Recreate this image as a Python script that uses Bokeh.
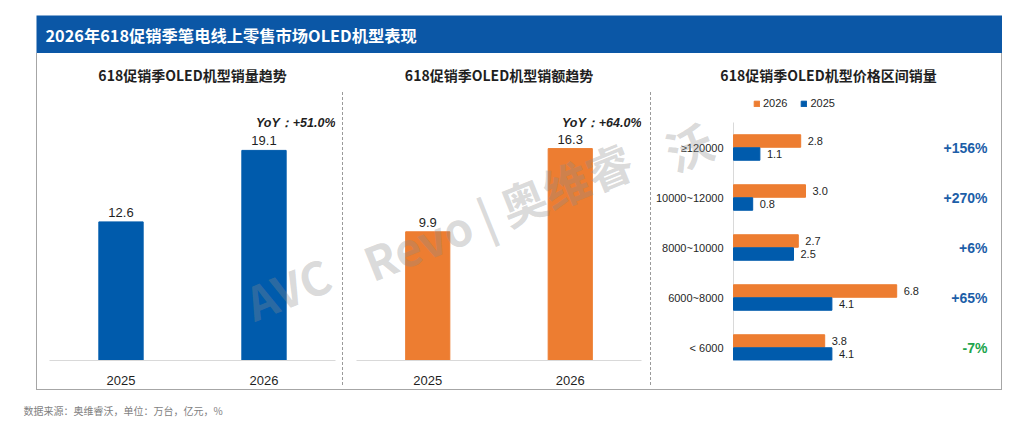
import math
from bokeh.plotting import figure
from bokeh.models import (ColumnDataSource, FactorRange, Range1d, Label, Legend,
                          LegendItem, Div, Spacer)
from bokeh.layouts import column, row
from bokeh.core.properties import value
from bokeh.embed import file_html
from bokeh.resources import INLINE

# ---------------- data ----------------
HEADER = "2026年618促销季笔电线上零售市场OLED机型表现"
FOOTER = "数据来源：奥维睿沃，单位：万台，亿元，%"
WATERMARK_PARTS = ["AVC", "Revo | 奥维睿", "沃"]     # one piece per panel

years = ["2025", "2026"]
title1 = "618促销季OLED机型销量趋势"
sales_volume = [12.6, 19.1]
yoy_volume = "YoY：+51.0%"

title2 = "618促销季OLED机型销额趋势"
sales_amount = [9.9, 16.3]
yoy_amount = "YoY：+64.0%"

title3 = "618促销季OLED机型价格区间销量"
price_bands = ["≥120000", "10000~12000", "8000~10000", "6000~8000", "< 6000"]
band_2026 = [2.8, 3.0, 2.7, 6.8, 3.8]
band_2025 = [1.1, 0.8, 2.5, 4.1, 4.1]
band_growth = ["+156%", "+270%", "+6%", "+65%", "-7%"]
series_names = ["2026", "2025"]

# ---------------- styles ----------------
HEADER_BLUE = "#0b57a6"
BLUE = "#005bac"
ORANGE = "#ed7d31"
GROWTH_BLUE = "#1c5ea8"
GROWTH_GREEN = "#20a44c"
BORDER = "#a6a6a6"
AXIS = "#d9d9d9"
TXT = "#1f1f1f"
NUM_FONT = "Liberation Sans"
CJK_FONT = "Noto Sans CJK SC"

PANEL_H = 336
BOTTOM = 29            # space below every frame (category labels)
FRAME_H = PANEL_H - BOTTOM
TITLE_DY = 21          # title centre below panel top (px)
# watermark piece centres, px from the panel row's top-left corner (page 36, 53)
WM_CENTRES = [(251, 234), (461, 157), (652, 92)]


def base_fig(**kw):
    p = figure(toolbar_location=None, output_backend="svg", outline_line_color=None, **kw)
    p.xgrid.grid_line_color = None
    p.ygrid.grid_line_color = None
    return p


def blank_fig(width, height, bg=None):
    p = base_fig(width=width, height=height, x_range=Range1d(0, 1), y_range=Range1d(0, 1),
                 x_axis_location=None, y_axis_location=None, min_border=0)
    if bg:
        p.background_fill_color = bg
        p.border_fill_color = bg
    return p


def title_label(x, y, text, size):
    return Label(x=x, y=y, text=text, text_align="center", text_baseline="middle",
                 text_font=CJK_FONT, text_font_size=size, text_font_style="bold",
                 text_color=TXT)


def watermark(x, y, text):
    return Label(x=x, y=y, text=text, text_align="center", text_baseline="middle",
                 angle=math.radians(22), text_font=CJK_FONT, text_font_size="46px",
                 text_font_style="bold", text_color="#8c8c8c", text_alpha=0.33)


# ---------------- header ----------------
hdr = blank_fig(966, 38, HEADER_BLUE)
hdr.add_layout(Label(x=0, y=0.5, x_offset=9, text=HEADER, text_color="white",
                     text_font_size="16.3px", text_font_style="bold", text_baseline="middle",
                     text_font=CJK_FONT))


# ---------------- vertical bar panels ----------------
def bar_panel(width, offset_x, title, vals, color, px_per_unit, yoy, mbl, mbr, wm):
    y_end = FRAME_H / px_per_unit
    frame_w = width - mbl - mbr
    px_per_cat = frame_w / len(years)
    src = ColumnDataSource(dict(x=years, y=vals, lbl=[f"{v:.1f}" for v in vals]))
    p = base_fig(width=width, height=PANEL_H, x_range=FactorRange(*years),
                 y_range=Range1d(0, y_end), y_axis_location=None,
                 min_border_left=mbl, min_border_right=mbr, min_border_top=0,
                 min_border_bottom=BOTTOM)
    p.vbar(x="x", top="y", width=0.31, color=color, source=src)
    p.text(x="x", y="y", text="lbl", source=src, y_offset=-5, text_align="center",
           text_baseline="bottom", text_font=value(NUM_FONT), text_font_size="13px",
           text_color=TXT)
    p.add_layout(Label(x=len(years), y=y_end - 69 / px_per_unit, text=yoy,
                       text_align="right", text_baseline="middle",
                       text_font_style="bold italic", text_font_size="12.5px",
                       text_font=NUM_FONT, text_color=TXT))
    p.add_layout(title_label(len(years) / 2, y_end - TITLE_DY / px_per_unit, title, "14px"))
    (wx, wy), wtext = wm
    p.add_layout(watermark((wx - offset_x - mbl) / px_per_cat,
                           (FRAME_H - wy) / px_per_unit, wtext))
    ax = p.xaxis[0]
    ax.axis_line_color = AXIS
    ax.major_tick_line_color = None
    ax.minor_tick_line_color = None
    ax.major_label_standoff = 9
    ax.major_label_text_font = NUM_FONT
    ax.major_label_text_font_size = "13px"
    ax.major_label_text_color = TXT
    return p


p1 = bar_panel(305, 1, title1, sales_volume, BLUE, 11.0, yoy_volume, 12, 7,
               (WM_CENTRES[0], WATERMARK_PARTS[0]))
p2 = bar_panel(307, 307, title2, sales_amount, ORANGE, 13.0, yoy_amount, 13, 9,
               (WM_CENTRES[1], WATERMARK_PARTS[1]))

# ---------------- horizontal bar panel ----------------
P3_W, P3_OFF = 350, 615
P3_R = 11
AXIS_X = 82             # px from panel left where the category axis sits
BAND_PX = 50.0          # pixels per price band
X_PX = 24.0             # pixels per unit of sales
x3_start = -AXIS_X / X_PX
x3_end = (P3_W - P3_R - AXIS_X) / X_PX
y3_start = -13 / BAND_PX
y3_end = y3_start + FRAME_H / BAND_PX

n = len(price_bands)
pos = [n - 1 - i for i in range(n)]            # first band on top
src3 = ColumnDataSource(dict(
    pos=pos, cat=price_bands,
    y26=[q + 0.13 for q in pos], y25=[q - 0.13 for q in pos],
    v26=band_2026, v25=band_2025,
    l26=[f"{v:.1f}" for v in band_2026], l25=[f"{v:.1f}" for v in band_2025],
    g=band_growth,
    gc=[GROWTH_GREEN if s.startswith("-") else GROWTH_BLUE for s in band_growth]))

p3 = base_fig(width=P3_W, height=PANEL_H, y_range=Range1d(y3_start, y3_end),
              x_range=Range1d(x3_start, x3_end), x_axis_location=None, y_axis_location=None,
              min_border_left=0, min_border_right=P3_R, min_border_top=0,
              min_border_bottom=BOTTOM)
wx3, wy3 = WM_CENTRES[2]
p3.add_layout(watermark(x3_start + (wx3 - P3_OFF) / X_PX,
                        y3_start + (FRAME_H - wy3) / BAND_PX, WATERMARK_PARTS[2]))
# category axis: line over the bands and the band names
p3.segment(x0=0, x1=0, y0=-0.5, y1=n - 0.5, line_color=AXIS, line_width=1)
p3.text(x=0, y="pos", text="cat", source=src3, x_offset=-10, text_align="right",
        text_baseline="middle", text_font=value(NUM_FONT), text_font_size="11px",
        text_color=TXT)
r26 = p3.hbar(y="y26", left=0, right="v26", height=0.25, color=ORANGE, source=src3)
r25 = p3.hbar(y="y25", left=0, right="v25", height=0.25, color=BLUE, source=src3)
for yy, vv, lab in (("y26", "v26", "l26"), ("y25", "v25", "l25")):
    p3.text(x=vv, y=yy, text=lab, source=src3, x_offset=7,
            text_baseline="middle", text_align="left", text_font=value(NUM_FONT),
            text_font_size="11px", text_color=TXT)
p3.text(x=x3_end, y="pos", text="g", source=src3, x_offset=-3, text_align="right",
        text_baseline="middle", text_color="gc", text_font=value(NUM_FONT),
        text_font_size="14px", text_font_style="bold")

legend = Legend(items=[LegendItem(label=series_names[0], renderers=[r26]),
                       LegendItem(label=series_names[1], renderers=[r25])],
                orientation="horizontal", location=(102, FRAME_H - 56),
                glyph_width=7, glyph_height=7, label_height=12, label_standoff=3,
                spacing=13, padding=0, margin=0, border_line_color=None,
                background_fill_alpha=0, label_text_font=NUM_FONT,
                label_text_font_size="11px", label_text_color=TXT)
p3.add_layout(legend)
p3.add_layout(title_label(x3_start + 177 / X_PX, y3_end - TITLE_DY / BAND_PX, title3, "14px"))


# ---------------- frame pieces ----------------
def vline():
    return Div(text="", width=1, height=PANEL_H, margin=0,
               styles={"background-color": BORDER})


def divider():
    return column(Spacer(width=1, height=39),
                  Div(text="", width=1, height=293, margin=0,
                      styles={"border-left": "1px dashed #9a9a9a", "box-sizing": "border-box"}),
                  Spacer(width=1, height=4))


body = row(vline(), p1, divider(), p2, divider(), p3, vline())
bottom_line = Div(text="", width=966, height=1, margin=0,
                  styles={"background-color": BORDER})
frame = column(hdr, body, bottom_line)

foot = blank_fig(330, 34)
foot.add_layout(Label(x=0, y=0.4, text=FOOTER, text_baseline="middle", text_font=CJK_FONT,
                      text_font_size="10px", text_color="#7f7f7f"))

layout = column(Spacer(width=10, height=15),
                row(Spacer(width=36, height=10), frame),
                row(Spacer(width=23, height=10), foot))

open("out.html", "w").write(file_html(layout, INLINE, "chart"))
